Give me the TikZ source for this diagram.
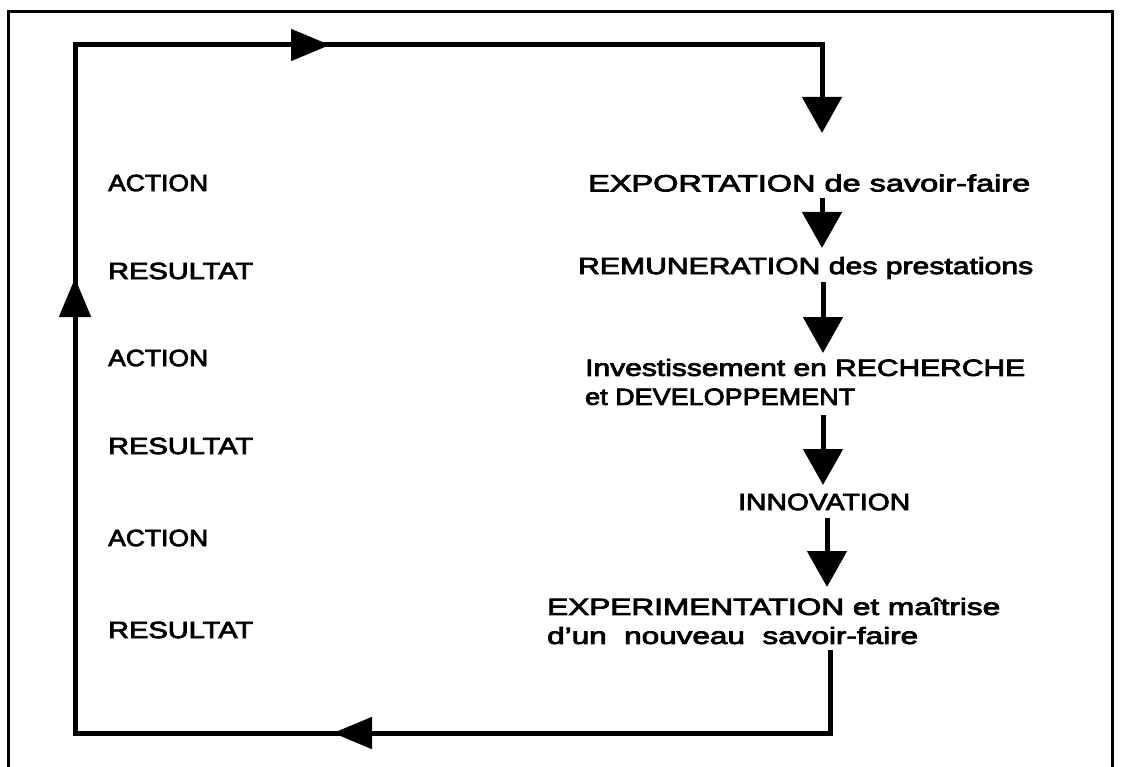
\documentclass[tikz,border=0pt]{standalone}
\usepackage{graphicx}
\usepackage{fontspec}
\setmainfont{Liberation Sans}[FakeBold=3]
\usetikzlibrary{arrows.meta,decorations.markings}
\newcommand\fitw[2]{\resizebox{#1}{\height}{#2}}
\begin{document}
\begin{tikzpicture}[x=1pt,y=-1pt,
  lbl/.style={anchor=west,inner sep=0pt,font=\fontsize{23.5}{29}\selectfont,align=left},
  loopline/.style={line width=5pt,line cap=rect},
  frameline/.style={line width=3pt},
  shaft/.style={line width=5pt,-{Triangle[length=36pt,width=39pt]}},
  midarrow/.style={postaction={decorate},decoration={markings,
     mark=at position #1 with {\arrow{Triangle[length=39pt,width=31pt]}}}}]
\useasboundingbox (0,0) rectangle (1124,767);
% outer frame
\draw[frameline] (8,767) -- (8,12) -- (1112,12) -- (1112,767);
% loop corners
\coordinate (TL) at (75,45);
\coordinate (TR) at (822,45);
\coordinate (BL) at (75,733);
\coordinate (BR) at (830,733);
% right column texts
\node[lbl] (exp) at (588,183) {\fitw{442pt}{EXPORTATION de savoir-faire}};
\node[lbl] (rem) at (578,268) {\fitw{455pt}{REMUNERATION des prestations}};
\node[lbl] (inv) at (585,382) {\fitw{440pt}{Investissement en RECHERCHE}\\\fitw{270pt}{et DEVELOPPEMENT}};
\node[lbl] (inn) at (738,502) {\fitw{172pt}{INNOVATION}};
\node[lbl] (xpe) at (547,621) {\fitw{453pt}{EXPERIMENTATION et maîtrise}\\\fitw{371pt}{d'un\ \ nouveau\ \ savoir-faire}};
% left labels
\node[lbl] (a1) at (108,183) {\fitw{100pt}{ACTION}};
\node[lbl] (r1) at (108,271) {\fitw{145pt}{RESULTAT}};
\node[lbl] (a2) at (108,358) {\fitw{100pt}{ACTION}};
\node[lbl] (r2) at (108,446) {\fitw{145pt}{RESULTAT}};
\node[lbl] (a3) at (108,538) {\fitw{100pt}{ACTION}};
\node[lbl] (r3) at (108,630) {\fitw{145pt}{RESULTAT}};
% arrow end points
\coordinate (e1) at (822,133);
\coordinate (s2) at (822,198);
\coordinate (e2) at (822,248);
\coordinate (s3) at (823,282);
\coordinate (e3) at (823,353);
\coordinate (s4) at (823,415);
\coordinate (e4) at (823,485);
\coordinate (s5) at (827,518);
\coordinate (e5) at (827,587);
\coordinate (s6) at (830,652);
% vertical chain
\draw[shaft] (TR) -- (e1);
\draw[shaft] (s2) -- (e2);
\draw[shaft] (s3) -- (e3);
\draw[shaft] (s4) -- (e4);
\draw[shaft] (s5) -- (e5);
% loop
\draw[loopline] (s6) -- (BR);
\draw[loopline,midarrow=497pt] (BR) -- (BL);
\draw[loopline,midarrow=455pt] (BL) -- (TL);
\draw[loopline,midarrow=255pt] (TL) -- (TR);
\end{tikzpicture}
\end{document}
